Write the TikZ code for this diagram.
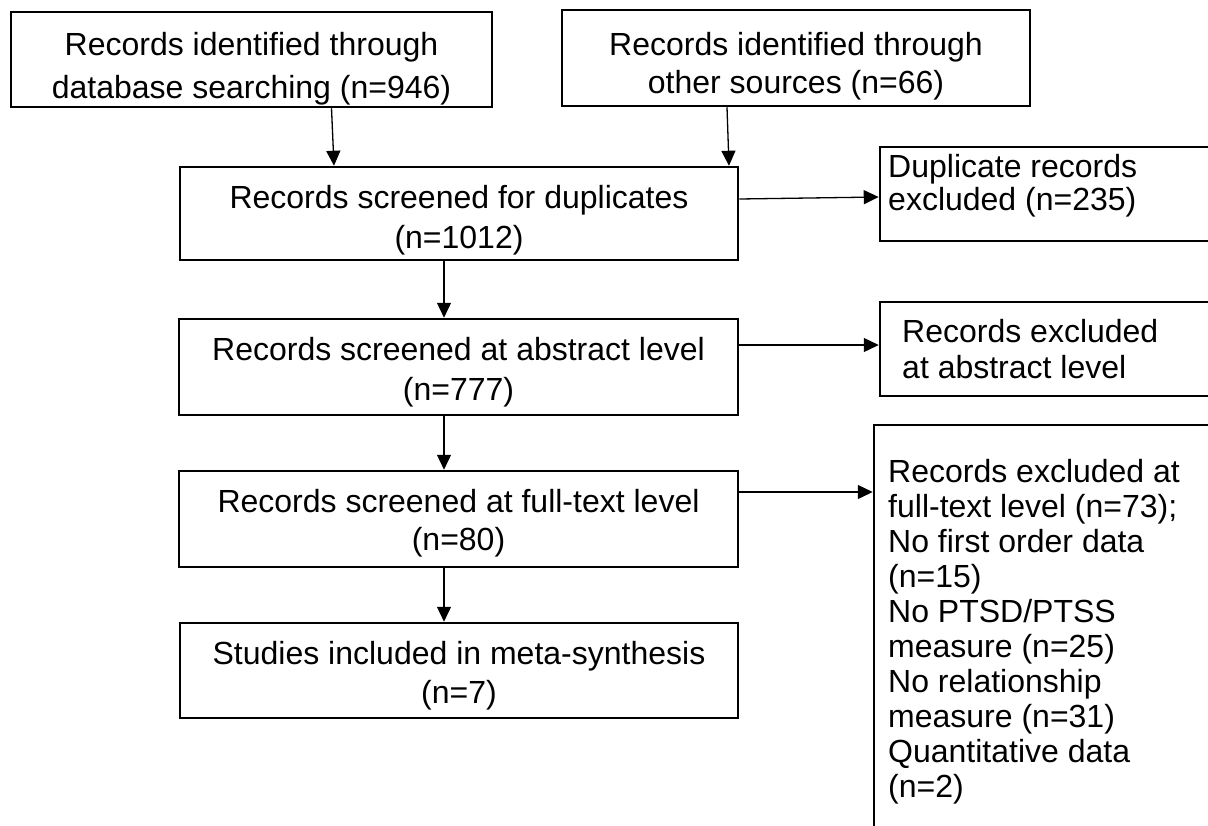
\documentclass[tikz,border=0pt]{standalone}
\usepackage{fontspec}
\setmainfont{Liberation Sans}
\usetikzlibrary{arrows.meta}
\begin{document}
\begin{tikzpicture}[x=1pt,y=-1pt,
  box/.style={draw, line width=2.5pt, inner sep=0pt},
  txt/.style={inner sep=0pt, align=center, anchor=north, font=\fontsize{32}{#1}\selectfont},
  ltxt/.style={inner sep=0pt, align=left, anchor=north west, font=\fontsize{32}{#1}\selectfont},
  arr/.style={-{Triangle[length=15pt,width=14pt]}, line width=1.3pt}]
\clip (0,0) rectangle (1208,825);
\fill[white] (0,0) rectangle (1208,825);
% left column
\node[box, minimum width=481pt, minimum height=95pt] (A) at (251.5,59.5) {};
\node[txt=43] (At) at (251.5,31.7) {Records identified through\\database searching (n=946)};
\node[box, minimum width=468pt, minimum height=96pt] (B) at (796,58) {};
\node[txt=38] (Bt) at (796,32) {Records identified through\\other sources (n=66)};
\node[box, minimum width=558pt, minimum height=93pt] (C) at (459,213.5) {};
\node[txt=40] (Ct) at (459,185) {Records screened for duplicates\\(n=1012)};
\node[box, minimum width=559pt, minimum height=96pt] (E) at (458.5,367) {};
\node[txt=40] (Et) at (458.5,337) {Records screened at abstract level\\(n=777)};
\node[box, minimum width=559pt, minimum height=96pt] (G) at (458.5,519) {};
\node[txt=38] (Gt) at (458.5,489) {Records screened at full-text level\\(n=80)};
\node[box, minimum width=558pt, minimum height=95pt] (I) at (459,670.5) {};
\node[txt=39] (It) at (459,641) {Studies included in meta-synthesis\\(n=7)};
% right column
\node[box, minimum width=350pt, minimum height=94pt] (D) at (1055,194) {};
\node[ltxt=33] (Dt) at (888,154) {Duplicate records\\excluded (n=235)};
\node[box, minimum width=350pt, minimum height=94pt] (F) at (1055,349) {};
\node[ltxt=36] (Ft) at (902,319) {Records excluded\\at abstract level};
\node[box, minimum width=356pt, minimum height=425pt] (H) at (1052,637.5) {};
\node[ltxt=35] (Ht) at (888,459) {Records excluded at\\full-text level (n=73);\\No first order data\\(n=15)\\No PTSD/PTSS\\measure (n=25)\\No relationship\\measure (n=31)\\Quantitative data\\(n=2)};
% connectors
\draw[arr] ([xshift=80pt]A.south) -- ([xshift=-125pt]C.north);
\draw[arr] ([xshift=-69pt]B.south) -- ([xshift=270pt]C.north);
\draw[arr] ([yshift=14.5pt]C.east) -- ([yshift=-3pt]D.west);
\draw[arr] ([xshift=-15pt]C.south) -- ([xshift=-14.5pt]E.north);
\draw[arr] ([yshift=22pt]E.east) -- ([yshift=4pt]F.west);
\draw[arr] ([xshift=-14.5pt]E.south) -- ([xshift=-14.5pt]G.north);
\draw[arr] ([yshift=27pt]G.east) -- ([yshift=145.5pt]H.west);
\draw[arr] ([xshift=-14.5pt]G.south) -- ([xshift=-15pt]I.north);
\end{tikzpicture}
\end{document}
